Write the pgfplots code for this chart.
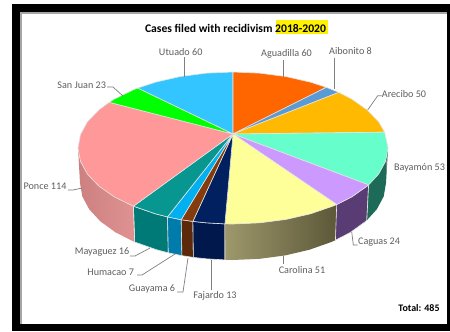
\documentclass[border=0pt]{standalone}
\usepackage{fontspec}
\setmainfont{Carlito}
\usepackage{pgfplots}
\pgfplotsset{compat=1.18}
\definecolor{rim}{HTML}{E4E4E4}
\definecolor{labelgrey}{HTML}{5F5F5F}
\definecolor{leader}{HTML}{7F7F7F}
\begin{document}
\begin{tikzpicture}[
  lab/.style={text=labelgrey,font=\fontsize{10.2}{12}\selectfont,inner sep=0pt,anchor=center}]
\begin{axis}[
  scale only axis,width=450bp,height=331bp,
  xmin=0,xmax=450,ymin=0,ymax=331,y dir=reverse,
  hide axis,clip=true]
% page background and picture frame
\addplot[fill=white,draw=none] coordinates {(0,0)(450,0)(450,331)(0,331)} --cycle;
\addplot[fill=black,draw=none] coordinates {(12,4)(450,4)(450,331)(12,331)} --cycle;
\addplot[fill=black!35,draw=none] coordinates {(20,12)(447,12)(447,324)(20,324)} --cycle;
\addplot[fill=white,draw=none] coordinates {(22,14)(447,14)(447,324)(22,324)} --cycle;
% highlighted years in the title
\addplot[fill=yellow,draw=none] coordinates {(276,20)(328,20)(328,33.5)(276,33.5)} --cycle;

% side walls, front half of the pie
\addplot[left color={rgb,255:red,204;green,128;blue,128},right color={rgb,255:red,224;green,146;blue,146},draw=none] coordinates {(78,148)(80.4,161.2)(87.3,174)(98.8,186)(114.3,196.9)(133.4,206.2)(134.7,242)(115.8,232.5)(100.5,221.5)(89.2,209.3)(82.3,196.4)(80,183)} --cycle;
\addplot[fill={rgb,255:red,0;green,122;blue,118},draw=rim,line width=0.6pt] coordinates {(133.4,206.2)(155.5,213.8)(167.5,216.9)(168.3,252.8)(156.5,249.7)(134.7,242)} --cycle;
\addplot[fill={rgb,255:red,0;green,124;blue,172},draw=rim,line width=0.6pt] coordinates {(167.5,216.9)(181.2,219.7)(181.9,255.6)(168.3,252.8)} --cycle;
\addplot[fill={rgb,255:red,92;green,42;blue,10},draw=rim,line width=0.6pt] coordinates {(181.2,219.7)(192.9,221.4)(193.4,257.4)(181.9,255.6)} --cycle;
\addplot[fill={rgb,255:red,0;green,24;blue,76},draw=rim,line width=0.6pt] coordinates {(192.9,221.4)(206.1,222.8)(224.9,223.9)(225,259.9)(206.4,258.8)(193.4,257.4)} --cycle;
\addplot[left color={rgb,255:red,158;green,152;blue,108},right color={rgb,255:red,92;green,88;blue,56},draw=none] coordinates {(224.9,223.9)(233,224)(259.9,222.8)(286,219.4)(310.5,213.8)(332.6,206.2)(336.7,204.5)(335.4,240.2)(331.3,242)(309.5,249.7)(285.3,255.4)(259.6,258.8)(233,260)(225,259.9)} --cycle;
\addplot[fill={rgb,255:red,88;green,60;blue,115},draw=rim,line width=0.6pt] coordinates {(336.7,204.5)(351.7,196.9)(367.2,186)(368.6,184.9)(366.8,220.3)(365.5,221.5)(350.2,232.5)(335.4,240.2)} --cycle;
\addplot[fill={rgb,255:red,30;green,106;blue,88},draw=none] coordinates {(368.6,184.9)(378.7,174)(385.6,161.2)(388,148)(386,183)(383.7,196.4)(376.8,209.3)(366.8,220.3)} --cycle;
\addplot[draw=rim,line width=0.6pt] coordinates {(368.6,184.9)(366.8,220.3)};
\addplot[draw=rim,line width=0.6pt] coordinates {(224.9,223.9)(225,259.9)};
\addplot[draw=rim,line width=0.6pt] coordinates {(133.4,206.2)(134.7,242)};

% top surface: one sector per municipality
% Utuado 60
\addplot[fill={rgb,255:red,51;green,197;blue,255},draw=rim,line width=0.6pt] coordinates {(233,134)(233,72)(206.1,73.2)(180,76.6)(155.5,82.2)(137.6,88.1)} --cycle;
% Aguadilla 60
\addplot[fill={rgb,255:red,255;green,102;blue,0},draw=rim,line width=0.6pt] coordinates {(233,134)(233,72)(259.9,73.2)(286,76.6)(310.5,82.2)(326.3,87.3)} --cycle;
% Aibonito 8
\addplot[fill={rgb,255:red,91;green,155;blue,213},draw=rim,line width=0.6pt] coordinates {(233,134)(326.3,87.3)(332.6,89.8)(338.7,92.4)} --cycle;
% Arecibo 50
\addplot[fill={rgb,255:red,255;green,185;blue,0},draw=rim,line width=0.6pt] coordinates {(233,134)(338.7,92.4)(351.7,99.1)(367.2,110)(378.7,122)(384.6,132.2)} --cycle;
% Bayamon 53
\addplot[fill={rgb,255:red,102;green,255;blue,204},draw=rim,line width=0.6pt] coordinates {(233,134)(384.6,132.2)(388,148)(385.6,161.2)(378.7,174)(368.6,184.9)} --cycle;
% Caguas 24
\addplot[fill={rgb,255:red,204;green,153;blue,255},draw=rim,line width=0.6pt] coordinates {(233,134)(368.6,184.9)(351.7,196.9)(336.7,204.5)} --cycle;
% Carolina 51
\addplot[fill={rgb,255:red,255;green,255;blue,153},draw=rim,line width=0.6pt] coordinates {(233,134)(336.7,204.5)(332.6,206.2)(310.5,213.8)(286,219.4)(259.9,222.8)(233,224)(224.9,223.9)} --cycle;
% Fajardo 13
\addplot[fill={rgb,255:red,0;green,32;blue,96},draw=rim,line width=0.6pt] coordinates {(233,134)(224.9,223.9)(206.1,222.8)(192.9,221.4)} --cycle;
% Guayama 6
\addplot[fill={rgb,255:red,132;green,60;blue,12},draw=rim,line width=0.6pt] coordinates {(233,134)(192.9,221.4)(181.2,219.7)} --cycle;
% Humacao 7
\addplot[fill={rgb,255:red,0;green,176;blue,240},draw=rim,line width=0.6pt] coordinates {(233,134)(181.2,219.7)(167.5,216.9)} --cycle;
% Mayaguez 16
\addplot[fill={rgb,255:red,8;green,150;blue,145},draw=rim,line width=0.6pt] coordinates {(233,134)(167.5,216.9)(155.5,213.8)(133.4,206.2)} --cycle;
% Ponce 114
\addplot[fill={rgb,255:red,255;green,153;blue,153},draw=rim,line width=0.6pt] coordinates {(233,134)(133.4,206.2)(114.3,196.9)(98.8,186)(87.3,174)(80.4,161.2)(78,148)(80.4,134.8)(87.3,122)(98.8,110)(109.2,102.3)} --cycle;
% San Juan 23
\addplot[fill={rgb,255:red,0;green,255;blue,0},draw=rim,line width=0.6pt] coordinates {(233,134)(109.2,102.3)(114.3,99.1)(133.4,89.8)(137.6,88.1)} --cycle;

% leader lines
\addplot[draw=leader,line width=0.7pt] coordinates {(184,57)(184,77)};
\addplot[draw=leader,line width=0.7pt] coordinates {(107,87)(113,87)(123,96)};
\addplot[draw=leader,line width=0.7pt] coordinates {(283,60)(283,77)};
\addplot[draw=leader,line width=0.7pt] coordinates {(334,58)(334,89)};
\addplot[draw=leader,line width=0.7pt] coordinates {(381.7,95.7)(377.7,95.7)(367.7,110)};
\addplot[draw=leader,line width=0.7pt] coordinates {(386,160)(386,171)};
\addplot[draw=leader,line width=0.7pt] coordinates {(351.7,231.7)(353.3,245)(357.7,245)};
\addplot[draw=leader,line width=0.7pt] coordinates {(283,256)(283,264)};
\addplot[draw=leader,line width=0.7pt] coordinates {(211,260)(211,290)};
\addplot[draw=leader,line width=0.7pt] coordinates {(188,258)(183,292)(177,292)};
\addplot[draw=leader,line width=0.7pt] coordinates {(175,254)(142,275)(137,275)};
\addplot[draw=leader,line width=0.7pt] coordinates {(150,248)(135,256)(130,256)};
\addplot[draw=leader,line width=0.7pt] coordinates {(82,188)(73,190)(68,190)};

% titles and labels
\node[inner sep=0pt,font=\bfseries\fontsize{11.7}{14}\selectfont] at (235.5,28) {Cases filed with recidivism 2018-2020};
\node[lab] at (180.7,52) {Utuado 60};
\node[lab] at (81.7,85) {San Juan 23};
\node[lab] at (286.5,54) {Aguadilla 60};
\node[lab] at (350.5,51) {Aibonito 8};
\node[lab] at (404,94) {Arecibo 50};
\node[lab] at (419.5,168) {Bayamón 53};
\node[lab] at (379,242) {Caguas 24};
\node[lab] at (302,270) {Carolina 51};
\node[lab] at (215,296) {Fajardo 13};
\node[lab] at (152,289) {Guayama 6};
\node[lab] at (110.7,272) {Humacao 7};
\node[lab] at (102,252) {Mayaguez 16};
\node[lab] at (45,186) {Ponce 114};
\node[inner sep=0pt,font=\bfseries\fontsize{10}{12}\selectfont] at (419,308) {Total: 485};
\end{axis}
\end{tikzpicture}
\end{document}
